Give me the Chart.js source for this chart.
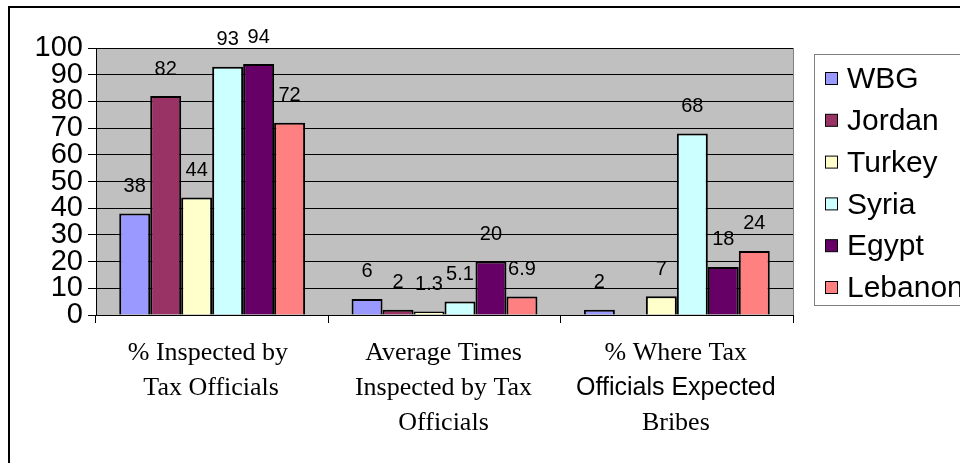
<!DOCTYPE html>
<html>
<head>
<meta charset="utf-8">
<script src="https://cdn.jsdelivr.net/npm/chart.js@4.4.1/dist/chart.umd.min.js"></script>
<style>
  html, body { margin: 0; padding: 0; background: #fff; overflow: hidden; }
  #wrap { width: 960px; height: 463px; position: relative; }
</style>
</head>
<body>
<div id="wrap"><canvas id="chart" width="960" height="463"></canvas></div>
<script>
// category labels, one array of lines per category
const categories = [
  ['% Inspected by ', 'Tax Officials'],
  ['Average Times', 'Inspected by Tax', 'Officials'],
  ['% Where Tax', 'Officials Expected', 'Bribes']
];
// the second line of the third category is set in a sans font in the original
const sansLines = [[], [], [1]];

const countries = ['WBG', 'Jordan', 'Turkey', 'Syria', 'Egypt', 'Lebanon'];
const colors = ['#9999FF', '#993366', '#FFFFCC', '#CCFFFF', '#660066', '#FF8080'];

const wbg = [38, 6, 2];
const jordan = [82, 2, null];
const turkey = [44, 1.3, 7];
const syria = [93, 5.1, 68];
const egypt = [94, 20, 18];
const lebanon = [72, 6.9, 24];

const yTicks = [0, 10, 20, 30, 40, 50, 60, 70, 80, 90, 100];

const seriesValues = [wbg, jordan, turkey, syria, egypt, lebanon];

const SANS = '"Liberation Sans", Arial, sans-serif';
const SERIF = '"Liberation Serif", "Times New Roman", serif';

// white page with the frame lines (left and top; right/bottom fall outside the view)
const framePlugin = {
  id: 'frame',
  beforeDraw(chart) {
    const ctx = chart.ctx;
    ctx.save();
    ctx.fillStyle = '#fff';
    ctx.fillRect(0, 0, chart.width, chart.height);
    ctx.strokeStyle = '#000';
    ctx.lineWidth = 2;
    ctx.beginPath();
    ctx.moveTo(9, chart.height);
    ctx.lineTo(9, 7);
    ctx.lineTo(chart.width, 7);
    ctx.stroke();
    // plot area background
    const a = chart.chartArea;
    ctx.fillStyle = '#C0C0C0';
    ctx.fillRect(a.left, a.top, a.right - a.left, a.bottom - a.top);
    ctx.restore();
  },
  afterDraw(chart) {
    const ctx = chart.ctx;
    const a = chart.chartArea;
    ctx.save();
    ctx.strokeStyle = '#808080';
    ctx.lineWidth = 1;
    ctx.beginPath();
    ctx.moveTo(a.right + 0.5, a.top);
    ctx.lineTo(a.right + 0.5, a.bottom);
    ctx.stroke();
    ctx.restore();
  }
};

// value labels above each bar
const valueLabels = {
  id: 'valueLabels',
  afterDatasetsDraw(chart) {
    const ctx = chart.ctx;
    ctx.save();
    ctx.font = '20px ' + SANS;
    ctx.fillStyle = '#000';
    ctx.textAlign = 'center';
    ctx.textBaseline = 'middle';
    chart.data.datasets.forEach((ds, di) => {
      const meta = chart.getDatasetMeta(di);
      meta.data.forEach((bar, i) => {
        const v = ds.data[i];
        if (v === null || v === undefined) return;
        ctx.fillText(String(v), bar.x, bar.y - 27);
      });
    });
    ctx.restore();
  }
};

// multi-line category labels under the x axis
const xLabels = {
  id: 'xLabels',
  afterDraw(chart) {
    const ctx = chart.ctx;
    const x = chart.scales.x;
    ctx.save();
    ctx.fillStyle = '#000';
    ctx.textAlign = 'center';
    ctx.textBaseline = 'middle';
    categories.forEach((lines, i) => {
      const cx = x.getPixelForValue(i);
      lines.forEach((line, j) => {
        const sans = sansLines[i].includes(j);
        ctx.font = sans ? '25px ' + SANS : '26px ' + SERIF;
        ctx.fillText(line, cx - 1, x.top + 38 + j * 35);
      });
    });
    ctx.restore();
  }
};

// boxed legend on the right, running off the edge like the original
const boxLegend = {
  id: 'boxLegend',
  afterDraw(chart) {
    const ctx = chart.ctx;
    const left = 814, top = 54, bottom = 305;
    ctx.save();
    ctx.fillStyle = '#fff';
    ctx.fillRect(left, top, chart.width - left + 5, bottom - top);
    ctx.strokeStyle = '#808080';
    ctx.lineWidth = 1;
    ctx.strokeRect(left + 0.5, top + 0.5, chart.width, bottom - top);
    ctx.font = '30px ' + SANS;
    ctx.textAlign = 'left';
    ctx.textBaseline = 'middle';
    chart.data.datasets.forEach((ds, i) => {
      const y = 79 + i * 41.8;
      ctx.fillStyle = ds.backgroundColor;
      ctx.fillRect(825.5, y - 6.5, 12, 12);
      ctx.strokeStyle = '#000';
      ctx.lineWidth = 1;
      ctx.strokeRect(825.5, y - 6.5, 12, 12);
      ctx.fillStyle = '#000';
      ctx.fillText(ds.label, 847, y + 1);
    });
    ctx.restore();
  }
};

const ctx = document.getElementById('chart').getContext('2d');
new Chart(ctx, {
  type: 'bar',
  data: {
    labels: categories.map(c => c.join(' ')),
    datasets: countries.map((name, i) => ({
      label: name,
      data: seriesValues[i],
      backgroundColor: colors[i],
      borderColor: '#000',
      borderWidth: 2,
      categoryPercentage: 0.8,
      barPercentage: 1.0
    }))
  },
  options: {
    responsive: false,
    animation: false,
    devicePixelRatio: 1,
    layout: { padding: { left: 0, top: 48, right: 167, bottom: 0 } },
    plugins: {
      legend: { display: false },
      tooltip: { enabled: false },
      title: { display: false }
    },
    scales: {
      x: {
        offset: true,
        grid: {
          offset: true,
          drawOnChartArea: false,
          drawTicks: true,
          tickLength: 8,
          color: '#000'
        },
        border: { display: true, color: '#000', width: 1 },
        ticks: { display: false },
        afterFit: s => { s.height = 148; }
      },
      y: {
        min: 0,
        max: 100,
        afterBuildTicks: s => { s.ticks = yTicks.map(v => ({ value: v })); },
        grid: {
          color: '#000',
          lineWidth: 1,
          tickLength: 8,
          drawTicks: true
        },
        border: { display: true, color: '#000', width: 1 },
        ticks: {
          color: '#000',
          padding: 5,
          autoSkip: false,
          stepSize: 10,
          font: { family: SANS, size: 29, lineHeight: 1 }
        },
        afterFit: s => { s.width = 96; }
      }
    }
  },
  plugins: [framePlugin, valueLabels, xLabels, boxLegend]
});
</script>
</body>
</html>
